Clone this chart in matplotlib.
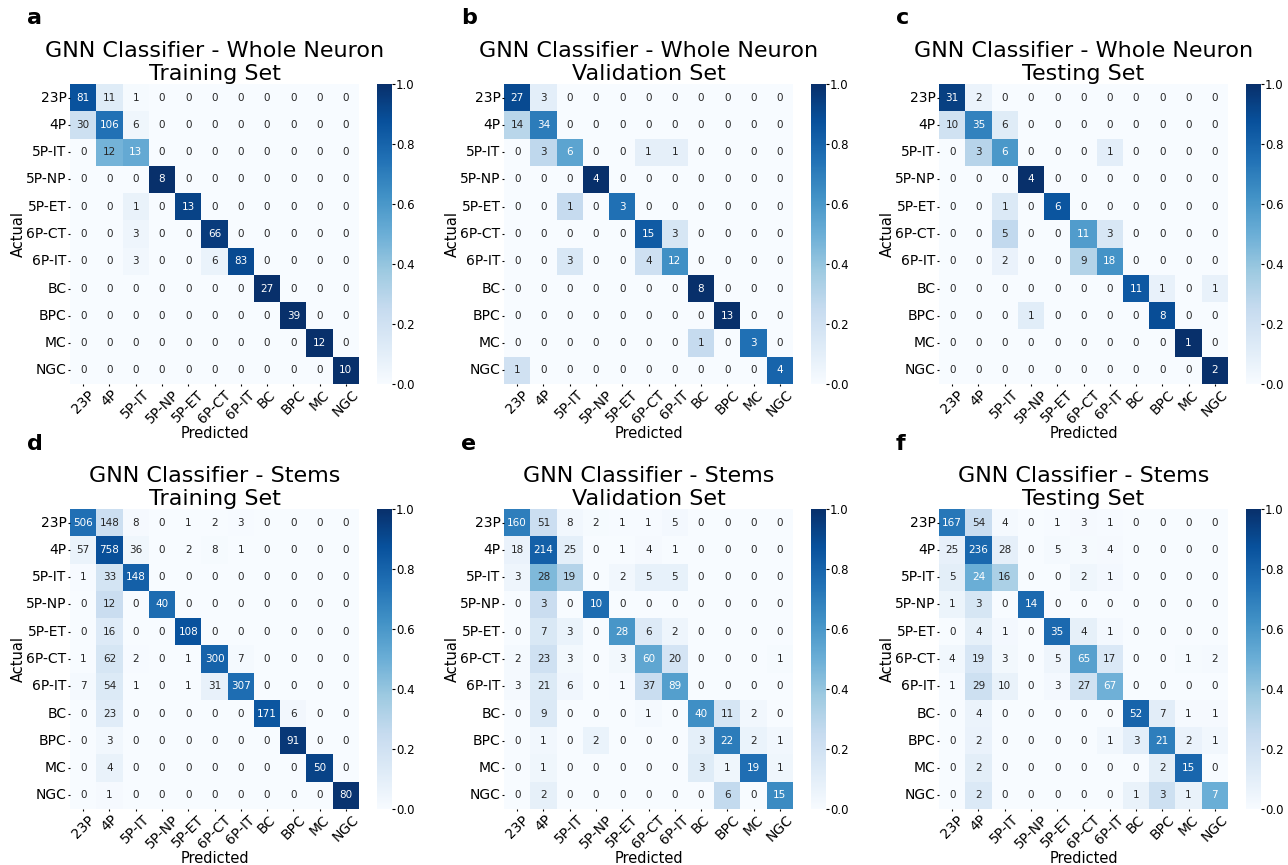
import matplotlib
matplotlib.use("Agg")
import matplotlib.pyplot as plt
import numpy as np
import seaborn as sns

classes = ['23P', '4P', '5P-IT', '5P-NP', '5P-ET', '6P-CT', '6P-IT', 'BC', 'BPC', 'MC', 'NGC']

# Whole neuron - training
cm_whole_train = [
    [81, 11, 1, 0, 0, 0, 0, 0, 0, 0, 0],
    [30, 106, 6, 0, 0, 0, 0, 0, 0, 0, 0],
    [0, 12, 13, 0, 0, 0, 0, 0, 0, 0, 0],
    [0, 0, 0, 8, 0, 0, 0, 0, 0, 0, 0],
    [0, 0, 1, 0, 13, 0, 0, 0, 0, 0, 0],
    [0, 0, 3, 0, 0, 66, 0, 0, 0, 0, 0],
    [0, 0, 3, 0, 0, 6, 83, 0, 0, 0, 0],
    [0, 0, 0, 0, 0, 0, 0, 27, 0, 0, 0],
    [0, 0, 0, 0, 0, 0, 0, 0, 39, 0, 0],
    [0, 0, 0, 0, 0, 0, 0, 0, 0, 12, 0],
    [0, 0, 0, 0, 0, 0, 0, 0, 0, 0, 10],
]

# Whole neuron - validation
cm_whole_val = [
    [27, 3, 0, 0, 0, 0, 0, 0, 0, 0, 0],
    [14, 34, 0, 0, 0, 0, 0, 0, 0, 0, 0],
    [0, 3, 6, 0, 0, 1, 1, 0, 0, 0, 0],
    [0, 0, 0, 4, 0, 0, 0, 0, 0, 0, 0],
    [0, 0, 1, 0, 3, 0, 0, 0, 0, 0, 0],
    [0, 0, 0, 0, 0, 15, 3, 0, 0, 0, 0],
    [0, 0, 3, 0, 0, 4, 12, 0, 0, 0, 0],
    [0, 0, 0, 0, 0, 0, 0, 8, 0, 0, 0],
    [0, 0, 0, 0, 0, 0, 0, 0, 13, 0, 0],
    [0, 0, 0, 0, 0, 0, 0, 1, 0, 3, 0],
    [1, 0, 0, 0, 0, 0, 0, 0, 0, 0, 4],
]

# Whole neuron - testing
cm_whole_test = [
    [31, 2, 0, 0, 0, 0, 0, 0, 0, 0, 0],
    [10, 35, 6, 0, 0, 0, 0, 0, 0, 0, 0],
    [0, 3, 6, 0, 0, 0, 1, 0, 0, 0, 0],
    [0, 0, 0, 4, 0, 0, 0, 0, 0, 0, 0],
    [0, 0, 1, 0, 6, 0, 0, 0, 0, 0, 0],
    [0, 0, 5, 0, 0, 11, 3, 0, 0, 0, 0],
    [0, 0, 2, 0, 0, 9, 18, 0, 0, 0, 0],
    [0, 0, 0, 0, 0, 0, 0, 11, 1, 0, 1],
    [0, 0, 0, 1, 0, 0, 0, 0, 8, 0, 0],
    [0, 0, 0, 0, 0, 0, 0, 0, 0, 1, 0],
    [0, 0, 0, 0, 0, 0, 0, 0, 0, 0, 2],
]

# Stems - training
cm_stems_train = [
    [506, 148, 8, 0, 1, 2, 3, 0, 0, 0, 0],
    [57, 758, 36, 0, 2, 8, 1, 0, 0, 0, 0],
    [1, 33, 148, 0, 0, 0, 0, 0, 0, 0, 0],
    [0, 12, 0, 40, 0, 0, 0, 0, 0, 0, 0],
    [0, 16, 0, 0, 108, 0, 0, 0, 0, 0, 0],
    [1, 62, 2, 0, 1, 300, 7, 0, 0, 0, 0],
    [7, 54, 1, 0, 1, 31, 307, 0, 0, 0, 0],
    [0, 23, 0, 0, 0, 0, 0, 171, 6, 0, 0],
    [0, 3, 0, 0, 0, 0, 0, 0, 91, 0, 0],
    [0, 4, 0, 0, 0, 0, 0, 0, 0, 50, 0],
    [0, 1, 0, 0, 0, 0, 0, 0, 0, 0, 80],
]

# Stems - validation
cm_stems_val = [
    [160, 51, 8, 2, 1, 1, 5, 0, 0, 0, 0],
    [18, 214, 25, 0, 1, 4, 1, 0, 0, 0, 0],
    [3, 28, 19, 0, 2, 5, 5, 0, 0, 0, 0],
    [0, 3, 0, 10, 0, 0, 0, 0, 0, 0, 0],
    [0, 7, 3, 0, 28, 6, 2, 0, 0, 0, 0],
    [2, 23, 3, 0, 3, 60, 20, 0, 0, 0, 1],
    [3, 21, 6, 0, 1, 37, 89, 0, 0, 0, 0],
    [0, 9, 0, 0, 0, 1, 0, 40, 11, 2, 0],
    [0, 1, 0, 2, 0, 0, 0, 3, 22, 2, 1],
    [0, 1, 0, 0, 0, 0, 0, 3, 1, 19, 1],
    [0, 2, 0, 0, 0, 0, 0, 0, 6, 0, 15],
]

# Stems - testing
cm_stems_test = [
    [167, 54, 4, 0, 1, 3, 1, 0, 0, 0, 0],
    [25, 236, 28, 0, 5, 3, 4, 0, 0, 0, 0],
    [5, 24, 16, 0, 0, 2, 1, 0, 0, 0, 0],
    [1, 3, 0, 14, 0, 0, 0, 0, 0, 0, 0],
    [0, 4, 1, 0, 35, 4, 1, 0, 0, 0, 0],
    [4, 19, 3, 0, 5, 65, 17, 0, 0, 1, 2],
    [1, 29, 10, 0, 3, 27, 67, 0, 0, 0, 0],
    [0, 4, 0, 0, 0, 0, 0, 52, 7, 1, 1],
    [0, 2, 0, 0, 0, 0, 1, 3, 21, 2, 1],
    [0, 2, 0, 0, 0, 0, 0, 0, 2, 15, 0],
    [0, 2, 0, 0, 0, 0, 0, 1, 3, 1, 7],
]

panels = [
    ('a', 'GNN Classifier - Whole Neuron\nTraining Set', cm_whole_train),
    ('b', 'GNN Classifier - Whole Neuron\nValidation Set', cm_whole_val),
    ('c', 'GNN Classifier - Whole Neuron\nTesting Set', cm_whole_test),
    ('d', 'GNN Classifier - Stems\nTraining Set', cm_stems_train),
    ('e', 'GNN Classifier - Stems\nValidation Set', cm_stems_val),
    ('f', 'GNN Classifier - Stems\nTesting Set', cm_stems_test),
]

W, H = 1288, 865
fig = plt.figure(figsize=(W / 100, H / 100), dpi=100)

lefts = [70, 504, 939]
tops = [84, 509]
hm_w, hm_h = 289, 300
letter_y = [24, 450]

for k, (letter, title, cm) in enumerate(panels):
    r, c = divmod(k, 3)
    x0, y0 = lefts[c], tops[r]
    ax = fig.add_axes([x0 / W, 1 - (y0 + hm_h) / H, hm_w / W, hm_h / H])
    cax = fig.add_axes([(x0 + 307) / W, 1 - (y0 + hm_h) / H, 15 / W, hm_h / H])

    counts = np.array(cm)
    norm = counts / counts.sum(axis=1, keepdims=True)

    sns.heatmap(norm, annot=counts, fmt='d', cmap='Blues', vmin=0, vmax=1,
                ax=ax, cbar_ax=cax, xticklabels=classes, yticklabels=classes,
                annot_kws={'size': 7.5})
    ax.set_title(title, fontsize=16, pad=2)
    ax.set_xlabel('Predicted', fontsize=10.5, labelpad=0)
    ax.set_ylabel('Actual', fontsize=10.5, labelpad=0)
    ax.tick_params(axis='both', labelsize=10, length=1.5, pad=1)
    plt.setp(ax.get_xticklabels(), rotation=45, ha='center')
    plt.setp(ax.get_yticklabels(), rotation=0)
    cax.tick_params(labelsize=8.5, length=2, pad=1)

    fig.text((27 + x0 - lefts[0]) / W, 1 - letter_y[r] / H, letter,
             fontsize=16, fontweight='bold', va='baseline')

fig.savefig('out.png', dpi=100)
